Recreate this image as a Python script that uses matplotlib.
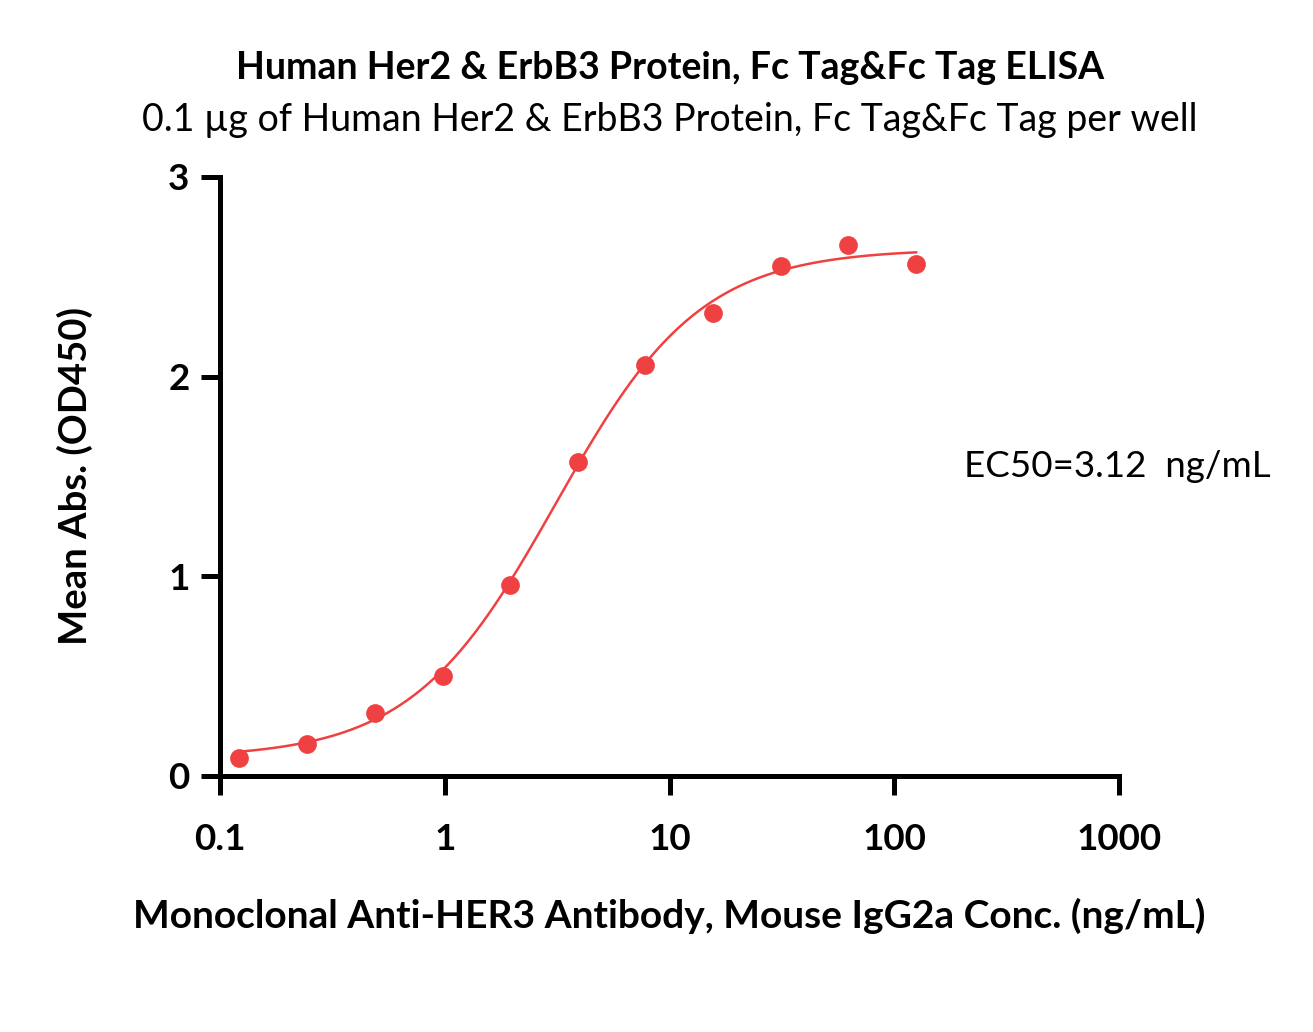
import numpy as np
import matplotlib.pyplot as plt
from matplotlib.ticker import FixedLocator, NullLocator

plt.rcParams['font.family'] = ['Lato', 'DejaVu Sans']

# === Data ===
conc = [0.122, 0.244, 0.488, 0.977, 1.95, 3.9, 7.8, 15.6, 31.25, 62.5, 125]
od450 = [0.09, 0.16, 0.315, 0.50, 0.955, 1.57, 2.06, 2.32, 2.555, 2.66, 2.565]

# 4PL fit parameters (EC50 as printed on the chart)
bottom, top, ec50, hill = 0.09, 2.64, 3.12, 1.35

x_ticks = [0.1, 1, 10, 100, 1000]
x_tick_labels = ['0.1', '1', '10', '100', '1000']
y_ticks = [0, 1, 2, 3]

red = '#EF4141'

def four_pl(x):
    return bottom + (top - bottom) / (1 + (ec50 / x) ** hill)

fig = plt.figure(figsize=(13.13, 10.32), dpi=100)
ax = fig.add_axes([0.1676, 0.2481, 0.6847, 0.5804])

x_fit = np.logspace(np.log10(conc[0]), np.log10(conc[-1]), 300)
ax.plot(x_fit, four_pl(x_fit), '-', color=red, lw=1.8)
ax.plot(conc, od450, 'o', color=red, ms=13.5, mec='none')

ax.set_xscale('log')
ax.set_xlim(0.1, 1000)
ax.set_ylim(0, 3)
ax.xaxis.set_major_locator(FixedLocator(x_ticks))
ax.xaxis.set_minor_locator(NullLocator())
ax.set_xticklabels(x_tick_labels)
ax.set_yticks(y_ticks)

for s in ['top', 'right']:
    ax.spines[s].set_visible(False)
for s in ['left', 'bottom']:
    ax.spines[s].set_linewidth(3.6)
ax.tick_params(width=3.6, length=14, labelsize=26.5)
ax.tick_params(axis='x', pad=20)
ax.tick_params(axis='y', pad=8)
for lab in ax.get_xticklabels() + ax.get_yticklabels():
    lab.set_fontweight('bold')

ax.set_xlabel('Monoclonal Anti-HER3 Antibody, Mouse IgG2a Conc. (ng/mL)',
              fontsize=28, fontweight='bold', labelpad=30)
ax.set_ylabel('Mean Abs. (OD450)', fontsize=27.5, fontweight='bold', labelpad=54)

fig.text(0.51, 0.934, 'Human Her2 & ErbB3 Protein, Fc Tag&Fc Tag ELISA',
         ha='center', va='center', fontsize=27, fontweight='bold')
fig.text(0.51, 0.884, '0.1 µg of Human Her2 & ErbB3 Protein, Fc Tag&Fc Tag per well',
         ha='center', va='center', fontsize=27)
fig.text(0.8507, 0.5475, 'EC50=3.12  ng/mL',
         ha='center', va='center', fontsize=26.5)

fig.savefig('out.png', dpi=100)
